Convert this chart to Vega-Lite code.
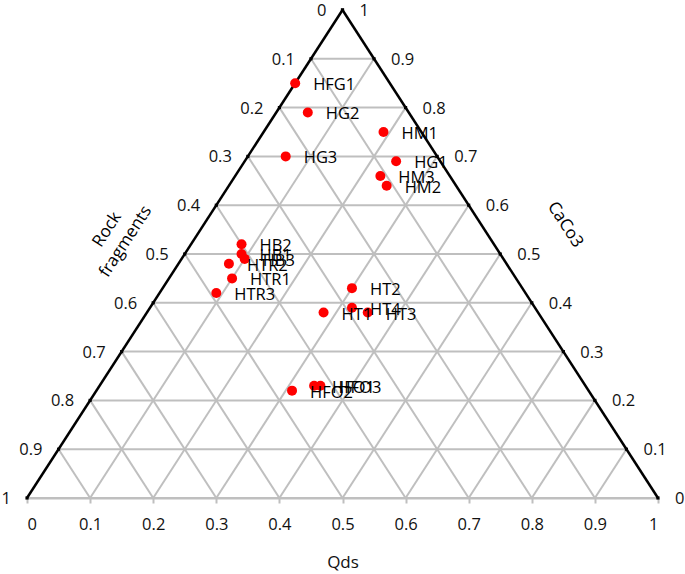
{
  "$schema": "https://vega.github.io/schema/vega-lite/v6.json",
  "width": 631,
  "height": 488,
  "autosize": {"type": "none"},
  "padding": {"left": 27, "top": 10, "right": 27, "bottom": 76},
  "background": "white",
  "config": {
    "view": {"stroke": null},
    "font": "Open Sans",
    "text": {"font": "Open Sans"}
  },
  "datasets": {
    "samples": [
      {"sample": "HFG1", "Qds": 0.00, "CaCo3": 0.85, "Rock": 0.15},
      {"sample": "HG2", "Qds": 0.05, "CaCo3": 0.79, "Rock": 0.16},
      {"sample": "HM1", "Qds": 0.19, "CaCo3": 0.75, "Rock": 0.06},
      {"sample": "HG3", "Qds": 0.06, "CaCo3": 0.70, "Rock": 0.24},
      {"sample": "HG1", "Qds": 0.24, "CaCo3": 0.69, "Rock": 0.07},
      {"sample": "HM3", "Qds": 0.23, "CaCo3": 0.66, "Rock": 0.11},
      {"sample": "HM2", "Qds": 0.25, "CaCo3": 0.64, "Rock": 0.11},
      {"sample": "HB2", "Qds": 0.08, "CaCo3": 0.52, "Rock": 0.40},
      {"sample": "HB1", "Qds": 0.09, "CaCo3": 0.50, "Rock": 0.41},
      {"sample": "HB3", "Qds": 0.10, "CaCo3": 0.49, "Rock": 0.41},
      {"sample": "HTR2", "Qds": 0.08, "CaCo3": 0.48, "Rock": 0.44},
      {"sample": "HTR1", "Qds": 0.10, "CaCo3": 0.45, "Rock": 0.45},
      {"sample": "HTR3", "Qds": 0.09, "CaCo3": 0.42, "Rock": 0.49},
      {"sample": "HT2", "Qds": 0.30, "CaCo3": 0.43, "Rock": 0.27},
      {"sample": "HT4", "Qds": 0.32, "CaCo3": 0.39, "Rock": 0.29},
      {"sample": "HT1", "Qds": 0.28, "CaCo3": 0.38, "Rock": 0.34},
      {"sample": "HT3", "Qds": 0.35, "CaCo3": 0.38, "Rock": 0.27},
      {"sample": "HFO1", "Qds": 0.34, "CaCo3": 0.23, "Rock": 0.43},
      {"sample": "HFO3", "Qds": 0.35, "CaCo3": 0.23, "Rock": 0.42},
      {"sample": "HFO2", "Qds": 0.31, "CaCo3": 0.22, "Rock": 0.47}
    ],
    "grid": [
      {"comp": "CaCo3", "v": 0}, {"comp": "CaCo3", "v": 0.1}, {"comp": "CaCo3", "v": 0.2}, {"comp": "CaCo3", "v": 0.3}, {"comp": "CaCo3", "v": 0.4}, {"comp": "CaCo3", "v": 0.5}, {"comp": "CaCo3", "v": 0.6}, {"comp": "CaCo3", "v": 0.7}, {"comp": "CaCo3", "v": 0.8}, {"comp": "CaCo3", "v": 0.9},
      {"comp": "Qds", "v": 0}, {"comp": "Qds", "v": 0.1}, {"comp": "Qds", "v": 0.2}, {"comp": "Qds", "v": 0.3}, {"comp": "Qds", "v": 0.4}, {"comp": "Qds", "v": 0.5}, {"comp": "Qds", "v": 0.6}, {"comp": "Qds", "v": 0.7}, {"comp": "Qds", "v": 0.8}, {"comp": "Qds", "v": 0.9},
      {"comp": "Rock", "v": 0}, {"comp": "Rock", "v": 0.1}, {"comp": "Rock", "v": 0.2}, {"comp": "Rock", "v": 0.3}, {"comp": "Rock", "v": 0.4}, {"comp": "Rock", "v": 0.5}, {"comp": "Rock", "v": 0.6}, {"comp": "Rock", "v": 0.7}, {"comp": "Rock", "v": 0.8}, {"comp": "Rock", "v": 0.9}
    ],
    "edgeLabels": [
      {"side": "Rock", "v": 0}, {"side": "Rock", "v": 0.1}, {"side": "Rock", "v": 0.2}, {"side": "Rock", "v": 0.3}, {"side": "Rock", "v": 0.4}, {"side": "Rock", "v": 0.5}, {"side": "Rock", "v": 0.6}, {"side": "Rock", "v": 0.7}, {"side": "Rock", "v": 0.8}, {"side": "Rock", "v": 0.9}, {"side": "Rock", "v": 1},
      {"side": "CaCo3", "v": 0}, {"side": "CaCo3", "v": 0.1}, {"side": "CaCo3", "v": 0.2}, {"side": "CaCo3", "v": 0.3}, {"side": "CaCo3", "v": 0.4}, {"side": "CaCo3", "v": 0.5}, {"side": "CaCo3", "v": 0.6}, {"side": "CaCo3", "v": 0.7}, {"side": "CaCo3", "v": 0.8}, {"side": "CaCo3", "v": 0.9}, {"side": "CaCo3", "v": 1}
    ],
    "titles": [
      {"name": "Rock\nfragments", "Qds": -0.148, "CaCo3": 0.55, "side": "Rock"},
      {"name": "CaCo3", "Qds": 0.573, "CaCo3": 0.56, "side": "CaCo3"}
    ]
  },
  "layer": [
    {
      "data": {"name": "grid"},
      "transform": [
        {"filter": "datum.v > 0 || datum.comp == 'CaCo3'"},
        {"calculate": "datum.comp == 'Qds' ? datum.v : (datum.comp == 'CaCo3' ? 0 : 1 - datum.v)", "as": "q1"},
        {"calculate": "datum.comp == 'CaCo3' ? datum.v : 0", "as": "c1"},
        {"calculate": "datum.comp == 'Qds' ? datum.v : (datum.comp == 'CaCo3' ? 1 - datum.v : 0)", "as": "q2"},
        {"calculate": "datum.comp == 'CaCo3' ? datum.v : 1 - datum.v", "as": "c2"},
        {"calculate": "datum.q1 + datum.c1 / 2", "as": "px1"},
        {"calculate": "datum.q2 + datum.c2 / 2", "as": "px2"}
      ],
      "mark": {"type": "rule", "color": "#bfbfbf", "strokeWidth": 2},
      "encoding": {
        "x": {"field": "px1", "type": "quantitative", "scale": {"domain": [0, 1], "nice": false}, "title": "Qds",
          "axis": {"values": [0, 0.1, 0.2, 0.3, 0.4, 0.5, 0.6, 0.7, 0.8, 0.9, 1], "format": ".1~f", "grid": false, "domainColor": "#bfbfbf", "domainWidth": 2, "tickColor": "#bfbfbf", "tickWidth": 2, "tickSize": 5, "labelFont": "Open Sans", "labelFontSize": 16.5, "labelColor": "#111", "labelPadding": 13, "titleFont": "Open Sans", "titleFontSize": 17, "titleFontWeight": "normal", "titleColor": "#111", "titlePadding": 22}},
        "y": {"field": "c1", "type": "quantitative", "scale": {"domain": [0, 1], "nice": false}, "axis": null},
        "x2": {"field": "px2"},
        "y2": {"field": "c2"}
      }
    },
    {
      "data": {"name": "grid"},
      "transform": [
        {"filter": "datum.v == 0 && datum.comp != 'CaCo3'"},
        {"calculate": "datum.comp == 'Qds' ? datum.v : 1 - datum.v", "as": "q1"},
        {"calculate": "0", "as": "c1"},
        {"calculate": "datum.comp == 'Qds' ? datum.v : 0", "as": "q2"},
        {"calculate": "1 - datum.v", "as": "c2"},
        {"calculate": "datum.q1 + datum.c1 / 2", "as": "px1"},
        {"calculate": "datum.q2 + datum.c2 / 2", "as": "px2"}
      ],
      "mark": {"type": "rule", "color": "#000000", "strokeWidth": 2.5},
      "encoding": {
        "x": {"field": "px1", "type": "quantitative", "title": "Qds"},
        "y": {"field": "c1", "type": "quantitative", "axis": null},
        "x2": {"field": "px2"},
        "y2": {"field": "c2"}
      }
    },
    {
      "data": {"name": "edgeLabels"},
      "transform": [
        {"calculate": "datum.side == 'Rock' ? 1 - datum.v : datum.v", "as": "c"},
        {"calculate": "datum.side == 'Rock' ? 0 : 1 - datum.v", "as": "q"},
        {"calculate": "datum.q + datum.c / 2", "as": "px"}
      ],
      "mark": {"type": "point", "shape": "square", "filled": true, "color": "#000000", "size": 10, "opacity": 1},
      "encoding": {
        "x": {"field": "px", "type": "quantitative", "title": "Qds"},
        "y": {"field": "c", "type": "quantitative", "axis": null}
      }
    },
    {
      "data": {"name": "edgeLabels"},
      "transform": [
        {"filter": "datum.side == 'Rock'"},
        {"calculate": "1 - datum.v", "as": "c"},
        {"calculate": "datum.c / 2", "as": "px"}
      ],
      "mark": {"type": "text", "align": "right", "baseline": "middle", "dx": -16, "dy": 1, "fontSize": 16.5, "color": "#111"},
      "encoding": {
        "x": {"field": "px", "type": "quantitative", "title": "Qds"},
        "y": {"field": "c", "type": "quantitative", "axis": null},
        "text": {"field": "v", "type": "quantitative", "format": ".1~f"}
      }
    },
    {
      "data": {"name": "edgeLabels"},
      "transform": [
        {"filter": "datum.side == 'CaCo3'"},
        {"calculate": "1 - datum.v / 2", "as": "px"}
      ],
      "mark": {"type": "text", "align": "left", "baseline": "middle", "dx": 17, "dy": 1, "fontSize": 16.5, "color": "#111"},
      "encoding": {
        "x": {"field": "px", "type": "quantitative", "title": "Qds"},
        "y": {"field": "v", "type": "quantitative", "axis": null},
        "text": {"field": "v", "type": "quantitative", "format": ".1~f"}
      }
    },
    {
      "data": {"name": "samples"},
      "transform": [
        {"calculate": "datum.Qds + datum.CaCo3 / 2", "as": "px"}
      ],
      "mark": {"type": "point", "shape": "circle", "filled": true, "color": "#ff0000", "size": 100, "opacity": 1},
      "encoding": {
        "x": {"field": "px", "type": "quantitative", "title": "Qds"},
        "y": {"field": "CaCo3", "type": "quantitative", "axis": null}
      }
    },
    {
      "data": {"name": "samples"},
      "transform": [
        {"calculate": "datum.Qds + datum.CaCo3 / 2", "as": "px"}
      ],
      "mark": {"type": "text", "align": "left", "baseline": "middle", "dx": 18, "dy": 2, "fontSize": 16.5, "color": "#000000"},
      "encoding": {
        "x": {"field": "px", "type": "quantitative", "title": "Qds"},
        "y": {"field": "CaCo3", "type": "quantitative", "axis": null},
        "text": {"field": "sample", "type": "nominal"}
      }
    },
    {
      "data": {"name": "titles"},
      "transform": [
        {"calculate": "datum.Qds + datum.CaCo3 / 2", "as": "px"}
      ],
      "mark": {"type": "text", "align": "center", "baseline": "middle", "fontSize": 17, "color": "#000000", "lineHeight": 22, "lineBreak": "\n"},
      "encoding": {
        "x": {"field": "px", "type": "quantitative", "title": "Qds"},
        "y": {"field": "CaCo3", "type": "quantitative", "axis": null},
        "text": {"field": "name", "type": "nominal"},
        "angle": {"field": "side", "type": "nominal", "scale": {"domain": ["Rock", "CaCo3"], "range": [303, 57]}, "legend": null}
      }
    }
  ]
}
